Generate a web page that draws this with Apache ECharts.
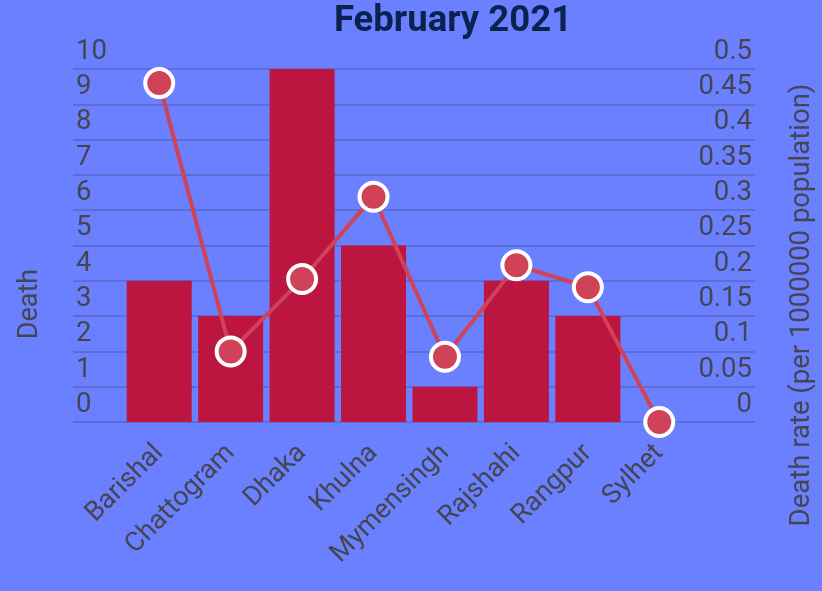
<!DOCTYPE html>
<html>
<head>
<meta charset="utf-8">
<script src="https://cdn.jsdelivr.net/npm/echarts@6/dist/echarts.min.js"></script>
<style>
  html, body { margin: 0; padding: 0; background: #6a80ff; }
  #main { width: 822px; height: 591px; }
</style>
</head>
<body>
<div id="main"></div>
<script>
const divisions = ['Barishal', 'Chattogram', 'Dhaka', 'Khulna', 'Mymensingh', 'Rajshahi', 'Rangpur', 'Sylhet'];
const deaths = [4, 3, 10, 5, 1, 4, 3, 0];
const deathRate = [0.48, 0.1, 0.2025, 0.319, 0.0925, 0.222, 0.191, 0];

const font = 'Roboto, "Noto Sans", sans-serif';
const labelColor = '#454552';
const gridLine = { show: true, lineStyle: { color: '#5a6ed6', width: 2 } };

// tick labels sit in the band above their grid line
const yLabel = {
  inside: true,
  margin: 3,
  fontSize: 27.5,
  color: labelColor,
  fontFamily: font,
  verticalAlign: 'bottom',
  lineHeight: 34,
  showMinLabel: true,
  showMaxLabel: true,
  hideOverlap: false,
};

const chart = echarts.init(document.getElementById('main'));
chart.setOption({
  backgroundColor: '#6a80ff',
  animation: false,
  title: {
    text: 'February 2021',
    left: 448,
    top: -2,
    textAlign: 'center',
    textStyle: { color: '#0b2250', fontSize: 36.5, fontWeight: 'bold', fontFamily: font },
  },
  grid: [
    // wide grid: carries the split lines and the tick labels
    { left: 73, right: 67, top: 69, bottom: 169 },
    // narrow grid: carries the category bands and the data
    { left: 123.5, right: 127, top: 69, bottom: 169 },
  ],
  xAxis: [
    { gridIndex: 0, type: 'value', show: false },
    {
      gridIndex: 1,
      type: 'category',
      data: divisions,
      axisLine: { show: false },
      axisTick: { show: false },
      axisLabel: {
        rotate: 45,
        margin: 27,
        fontSize: 27,
        color: labelColor,
        fontFamily: font,
        interval: 0,
      },
    },
  ],
  yAxis: [
    {
      gridIndex: 0,
      type: 'value',
      position: 'left',
      min: 0,
      max: 10,
      interval: 1,
      axisLine: { show: false },
      axisTick: { show: false },
      splitLine: gridLine,
      axisLabel: yLabel,
    },
    {
      gridIndex: 0,
      type: 'value',
      position: 'right',
      min: 0,
      max: 0.5,
      interval: 0.05,
      axisLine: { show: false },
      axisTick: { show: false },
      splitLine: { show: false },
      axisLabel: { ...yLabel, formatter: (v) => +v.toFixed(2) + '' },
    },
    { gridIndex: 1, type: 'value', min: 0, max: 10, show: false },
    { gridIndex: 1, type: 'value', min: 0, max: 0.5, show: false },
  ],
  graphic: [
    {
      type: 'text',
      x: 30,
      y: 304,
      rotation: Math.PI / 2,
      style: {
        text: 'Death',
        fill: labelColor,
        font: '27px ' + font,
        align: 'center',
        verticalAlign: 'middle',
      },
    },
    {
      type: 'text',
      x: 802,
      y: 305,
      rotation: Math.PI / 2,
      style: {
        text: 'Death rate (per 1000000 population)',
        fill: labelColor,
        font: '27.5px ' + font,
        align: 'center',
        verticalAlign: 'middle',
      },
    },
  ],
  series: [
    {
      name: 'Death',
      type: 'bar',
      xAxisIndex: 1,
      yAxisIndex: 2,
      data: deaths,
      barCategoryGap: '9%',
      itemStyle: { color: '#bb1540' },
    },
    {
      name: 'Death rate',
      type: 'line',
      xAxisIndex: 1,
      yAxisIndex: 3,
      data: deathRate,
      symbol: 'circle',
      symbolSize: 28,
      clip: false,
      lineStyle: { color: '#cf4257', width: 4 },
      itemStyle: { color: '#cf4257', borderColor: '#ffffff', borderWidth: 4 },
      z: 5,
    },
  ],
});
</script>
</body>
</html>
